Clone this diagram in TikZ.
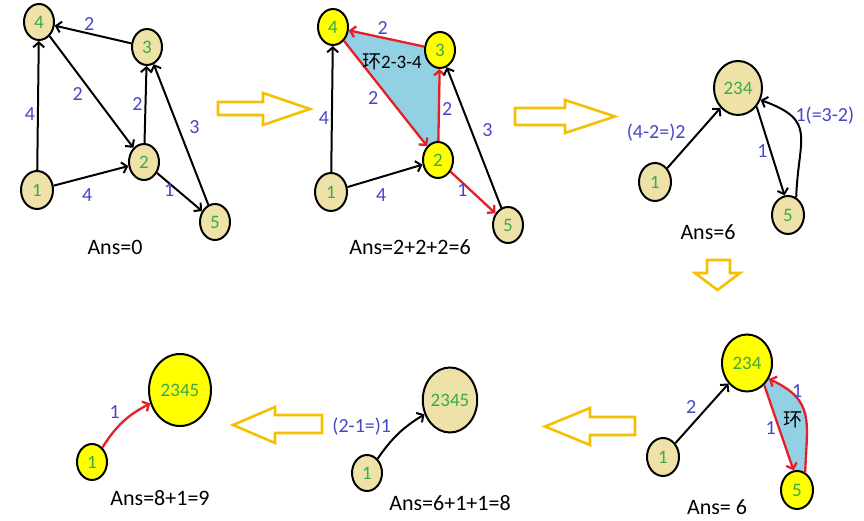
\documentclass[tikz,border=0pt]{standalone}
\usepackage{fontspec}
\setmainfont{Carlito}
\newfontfamily\cjk{Noto Sans CJK SC}
\usepackage{tikz}
\usetikzlibrary{shapes.geometric,arrows.meta,backgrounds}

\definecolor{vtxtan}{RGB}{238,226,168}
\definecolor{vtxyellow}{RGB}{255,255,0}
\definecolor{numgreen}{RGB}{56,170,72}
\definecolor{wtblue}{RGB}{70,70,200}
\definecolor{loopblue}{RGB}{146,208,228}
\definecolor{hlred}{RGB}{230,30,40}
\definecolor{stepgold}{RGB}{245,192,0}

\begin{document}
\begin{tikzpicture}[x=1pt, y=1pt,
  vtx/.style={draw, ellipse, line width=2pt, fill=vtxtan, text=numgreen, inner sep=0pt, minimum width=30pt, minimum height=36pt, font=\fontsize{19}{19}\selectfont},
  hot/.style={vtx, fill=vtxyellow},
  arr/.style={-{Straight Barb[length=5pt,width=11pt]}, line width=2pt},
  hl/.style={arr, draw=hlred, line width=2.3pt},
  lbl/.style={text=wtblue, font=\fontsize{20}{20}\selectfont, inner sep=2pt},
  note/.style={font=\fontsize{19}{19}\selectfont, inner sep=1pt},
  ans/.style={font=\fontsize{22}{22}\selectfont},
  hollow/.style={draw=stepgold, line width=2.6pt, line join=miter, fill=white}
]
\useasboundingbox (0,0) rectangle (864,521);

% step 1: original graph
\node[vtx] (a4) at (39,499) {4};
\node[vtx] (a3) at (147,474) {3};
\node[vtx] (a2) at (144,359) {2};
\node[vtx, minimum width=32pt, minimum height=38pt] (a1) at (37,331) {1};
\node[vtx] (a5) at (215,299) {5};
\draw[arr] (a3) -- node[lbl, above, pos=.55] {2} (a4);
\draw[arr] (a4) -- node[lbl, below left, pos=.43] {2} (a2);
\draw[arr] (a2) -- node[lbl, left] {2} (a3);
\draw[arr] (a5) -- node[lbl, right=8pt, pos=.55] {3} (a3);
\draw[arr] (a1) -- node[lbl, left, pos=.43] {4} (a4);
\draw[arr] (a1) -- node[lbl, below=9pt, pos=.45] {4} (a2);
\draw[arr] (a2) -- node[lbl, left, pos=.45] {1} (a5);
\node[ans] (ans1) at (115,274) {Ans=0};

% step 2: cycle 2-3-4
\node[hot] (b4) at (333,494) {4};
\node[hot] (b3) at (440,471) {3};
\node[hot] (b2) at (438,361) {2};
\node[vtx, minimum width=32pt, minimum height=38pt] (b1) at (331,329) {1};
\node[vtx] (b5) at (508,296) {5};
\begin{scope}[on background layer]
  \fill[loopblue] (b4.center) -- (b3.center) -- (b2.center) -- cycle;
\end{scope}
\draw[hl] (b3) -- node[lbl, above, pos=.55] {2} (b4);
\draw[hl] (b4) -- node[lbl, below left, pos=.45] {2} (b2);
\draw[hl] (b2) -- node[lbl, right, pos=.45] {2} (b3);
\draw[hl] (b2) -- node[lbl, left, pos=.45] {1} (b5);
\draw[arr] (b5) -- node[lbl, right=8pt, pos=.55] {3} (b3);
\draw[arr] (b1) -- node[lbl, left, pos=.43] {4} (b4);
\draw[arr] (b1) -- node[lbl, below=9pt, pos=.45] {4} (b2);
\node[note] (bloop) at (392,459) {{\cjk 环}2-3-4};
\node[ans] (ans2) at (410,274) {Ans=2+2+2=6};

% step 3: contracted 234
\node[vtx, minimum width=48pt, minimum height=54pt] (c234) at (738,433) {234};
\node[vtx, minimum width=32pt, minimum height=38pt] (c1) at (655,339) {1};
\node[vtx, minimum width=32pt, minimum height=38pt] (c5) at (788,306) {5};
\draw[arr] (c1) -- node[lbl, above left, pos=.4] {(4-2=)2} (c234);
\draw[arr] (c234.-45) -- node[lbl, left] {1} (c5.100);
\draw[arr] (c5.65) to[out=88, in=-20, looseness=1.5] node[lbl, right=2pt, pos=.75] {1(=3-2)} (c234.-28);
\node[ans] (ans3) at (708,289) {Ans=6};

% step 4: cycle 234-5
\node[hot, minimum width=50pt, minimum height=57pt] (d234) at (747,158) {234};
\node[vtx, minimum width=32pt, minimum height=38pt] (d1) at (663,64) {1};
\node[hot, minimum width=32pt, minimum height=38pt] (d5) at (797,31) {5};
\begin{scope}[on background layer]
  \fill[loopblue] (d234.-52) -- (d5.100) -- (d5.65) to[out=88, in=-25, looseness=1.3] (d234.-36) -- cycle;
\end{scope}
\draw[arr] (d1) -- node[lbl, above left, pos=.45] {2} (d234);
\draw[hl] (d234.-52) -- node[lbl, left] {1} (d5.100);
\draw[hl] (d5.65) to[out=88, in=-25, looseness=1.3] node[lbl, right, pos=.82] {1} (d234.-36);
\node[note] (dloop) at (793,101) {\cjk 环};
\node[ans] (ans4) at (717,14) {Ans= 6};

% step 5: contracted 2345
\node[vtx, minimum width=53pt, minimum height=65pt] (e2345) at (450,121) {2345};
\node[vtx] (e1) at (367,48) {1};
\draw[arr] (e1) to[bend left=12] node[lbl, above left, pos=.4] {(2-1=)1} (e2345);
\node[ans] (ans5) at (450,18) {Ans=6+1+1=8};

% step 6: last edge
\node[hot, minimum width=62pt, minimum height=72pt] (f2345) at (180,131) {2345};
\node[hot] (f1) at (92,59) {1};
\draw[hl] (f1) to[bend left=15] node[lbl, above left, pos=.5] {1} (f2345);
\node[ans] (ans6) at (160,23) {Ans=8+1=9};

% step arrows
\draw[hollow] (218,406) -- (263,406) -- (263,396) -- (310,412) -- (263,428) -- (263,419) -- (218,419) -- cycle;
\draw[hollow] (515,396) -- (565,396) -- (565,388) -- (615,404.5) -- (565,421) -- (565,413) -- (515,413) -- cycle;
\draw[hollow] (707,261) -- (730,261) -- (730,248) -- (740,248) -- (717.5,231) -- (695,248) -- (707,248) -- cycle;
\draw[hollow] (635,104) -- (590,104) -- (590,113) -- (545,94.5) -- (590,76) -- (590,86) -- (635,86) -- cycle;
\draw[hollow] (322,106) -- (275,106) -- (275,114) -- (233,96) -- (275,78) -- (275,88) -- (322,88) -- cycle;

\end{tikzpicture}
\end{document}
